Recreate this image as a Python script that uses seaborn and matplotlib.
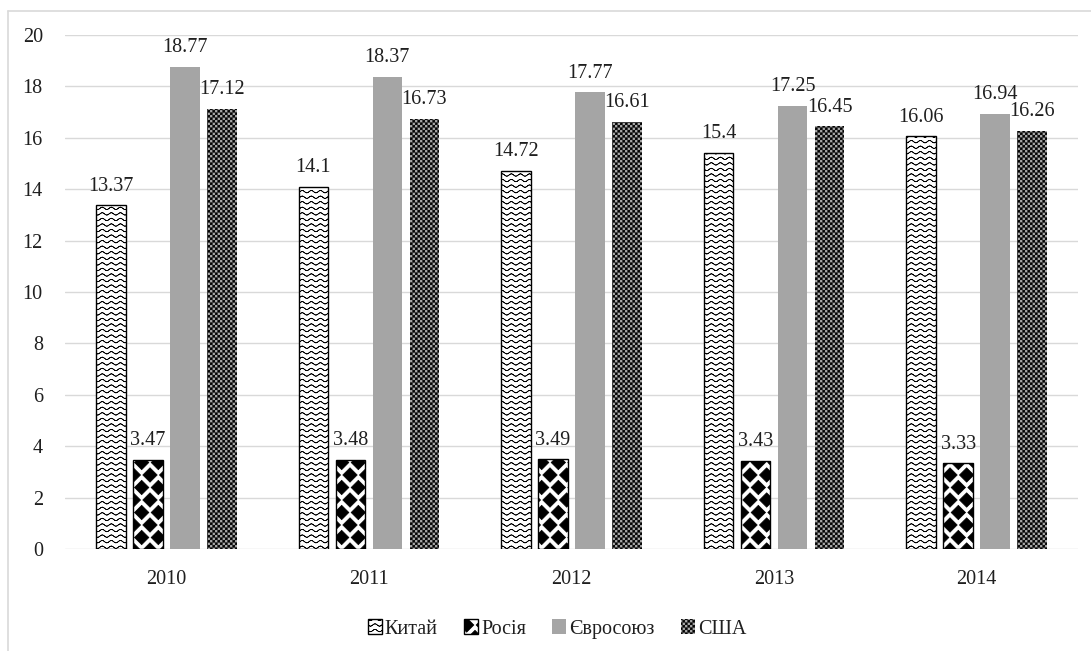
import warnings
warnings.filterwarnings("ignore")
import numpy as np
import pandas as pd
import matplotlib
matplotlib.use("Agg")
import matplotlib.pyplot as plt
import matplotlib.hatch as mhatch
from matplotlib.path import Path
from matplotlib.patches import Patch
from matplotlib.lines import Line2D
import seaborn as sns

# ---------------- data ----------------
years = ["2010", "2011", "2012", "2013", "2014"]
regions = ["Китай", "Росія", "Євросоюз", "США"]
china = [13.37, 14.1, 14.72, 15.4, 16.06]
russia = [3.47, 3.48, 3.49, 3.43, 3.33]
eu = [18.77, 18.37, 17.77, 17.25, 16.94]
usa = [17.12, 16.73, 16.61, 16.45, 16.26]
y_ticks = [0, 2, 4, 6, 8, 10, 12, 14, 16, 18, 20]

series = {"Китай": china, "Росія": russia, "Євросоюз": eu, "США": usa}
df = pd.DataFrame(
    [(y, r, v) for r in regions for y, v in zip(years, series[r])],
    columns=["year", "region", "value"],
)


# ---------------- custom hatch patterns ----------------
class WaveHatch(mhatch.HatchPatternBase):
    """Wavy horizontal lines, keyed on 'o'."""
    def __init__(self, hatch, density):
        self.n = hatch.count("o") * 6
        self.m = 89
        self.num_vertices = self.n * 2 * self.m if self.n else 0

    def set_vertices_and_codes(self, vertices, codes):
        xs = np.linspace(0, 1, self.m)
        vparts, cparts = [], []
        for i in range(self.n):
            y0 = (i + 0.5) / self.n
            ys = y0 + 0.012 * np.sin(2 * np.pi * 11 * xs)
            line = np.column_stack([xs, ys])
            v = np.concatenate([line, line[::-1]])
            c = np.full(len(v), Path.LINETO, dtype=Path.code_type)
            c[0] = Path.MOVETO
            vparts.append(v)
            cparts.append(c)
        np.concatenate(vparts, out=vertices)
        np.concatenate(cparts, out=codes)


class DiamondHatch(mhatch.HatchPatternBase):
    """Large filled diamonds, keyed on 'O'."""
    def __init__(self, hatch, density):
        self.on = hatch.count("O") > 0
        self.nx, self.ny = 6, 8
        self.positions = []
        if self.on:
            for r in range(self.ny + 1):
                yy = r / self.ny
                if r % 2 == 0:
                    cols = np.arange(self.nx + 1) / self.nx
                else:
                    cols = (np.arange(self.nx) + 0.5) / self.nx
                for xx in cols:
                    self.positions.append((xx, yy))
        self.num_vertices = len(self.positions) * 5

    def set_vertices_and_codes(self, vertices, codes):
        hx, hy = 0.072, 0.072
        shape = np.array([[0, hy], [hx, 0], [0, -hy], [-hx, 0], [0, hy]])
        sc = np.array([Path.MOVETO] + [Path.LINETO] * 3 + [Path.CLOSEPOLY],
                      dtype=Path.code_type)
        vparts = [shape + p for p in self.positions]
        cparts = [sc] * len(self.positions)
        np.concatenate(vparts, out=vertices)
        np.concatenate(cparts, out=codes)


class CheckerHatch(mhatch.HatchPatternBase):
    """Fine checkerboard, keyed on '*'."""
    def __init__(self, hatch, density):
        self.on = hatch.count("*") > 0
        self.n = 40
        self.positions = []
        if self.on:
            for i in range(self.n):
                for j in range(self.n):
                    if (i + j) % 2 == 0:
                        self.positions.append((i / self.n, j / self.n))
        self.num_vertices = len(self.positions) * 5

    def set_vertices_and_codes(self, vertices, codes):
        s = 1.0 / self.n
        e = 0.003
        shape = np.array([[e, e], [s - e, e], [s - e, s - e], [e, s - e], [e, e]])
        sc = np.array([Path.MOVETO] + [Path.LINETO] * 3 + [Path.CLOSEPOLY],
                      dtype=Path.code_type)
        vparts = [shape + p for p in self.positions]
        cparts = [sc] * len(self.positions)
        np.concatenate(vparts, out=vertices)
        np.concatenate(cparts, out=codes)


mhatch._hatch_types[:] = [WaveHatch, DiamondHatch, CheckerHatch]

# ---------------- style ----------------
sns.set_theme(style="white")
plt.rcParams["font.family"] = ["Liberation Serif", "DejaVu Serif"]
plt.rcParams["hatch.linewidth"] = 0.5
text_color = "#1f1f1f"
grid_color = "#d9d9d9"
fs = 14.5

styles = {
    "Китай": dict(face="white", edge="black", lw=1.0, hatch="ooo"),
    "Росія": dict(face="white", edge="black", lw=1.0, hatch="O"),
    "Євросоюз": dict(face="#a5a5a5", edge="#a5a5a5", lw=0.0, hatch=None),
    "США": dict(face="#a9a9a9", edge="black", lw=0.0, hatch="*"),
}

fig = plt.figure(figsize=(10.91, 6.51), dpi=100)
ax = fig.add_axes([65 / 1091, 1 - 549 / 651, (1078 - 65) / 1091, (549 - 35) / 651])

sns.barplot(
    data=df, x="year", y="value", hue="region", hue_order=regions,
    order=years, palette=[styles[r]["face"] for r in regions],
    width=0.73, gap=0.2, legend=False, ax=ax, saturation=1,
)

for cont, r in zip(ax.containers, regions):
    st = styles[r]
    for bar in cont:
        bar.set_facecolor(st["face"])
        bar.set_edgecolor(st["edge"])
        bar.set_linewidth(st["lw"])
        if st["hatch"]:
            bar.set_hatch(st["hatch"])
    ax.bar_label(cont, labels=[f"{v:g}" for v in series[r]], padding=7,
                 fontsize=fs, color=text_color)

ax.set_ylim(0, 20)
ax.set_yticks(y_ticks)
ax.set_xlim(-0.5, 4.5)
ax.set_xlabel("")
ax.set_ylabel("")
ax.grid(axis="y", color=grid_color, linewidth=1.0)
ax.grid(axis="x", visible=False)
ax.set_axisbelow(True)
for s in ["top", "right", "left", "bottom"]:
    ax.spines[s].set_visible(False)
ax.tick_params(axis="y", length=0, pad=16, labelsize=fs, labelcolor=text_color)
ax.tick_params(axis="x", length=0, pad=15, labelsize=fs, labelcolor=text_color)

# legend
handles = []
for r in regions:
    st = styles[r]
    handles.append(Patch(facecolor=st["face"], edgecolor=st["edge"],
                         linewidth=st["lw"], hatch=st["hatch"], label=r))
fig.legend(handles=handles, loc="center", bbox_to_anchor=(557 / 1091, 1 - 629 / 651),
           ncol=4, frameon=False, fontsize=fs, handlelength=0.7, handleheight=0.7,
           handletextpad=0.15, columnspacing=1.3, labelcolor=text_color)

# chart-area border (left & top visible)
fig.add_artist(Line2D([8 / 1091, 8 / 1091], [0, 1 - 11 / 651], color=grid_color,
                      linewidth=1.2, transform=fig.transFigure))
fig.add_artist(Line2D([8 / 1091, 1], [1 - 11 / 651, 1 - 11 / 651], color=grid_color,
                      linewidth=1.2, transform=fig.transFigure))

fig.savefig("out.png", dpi=100)
